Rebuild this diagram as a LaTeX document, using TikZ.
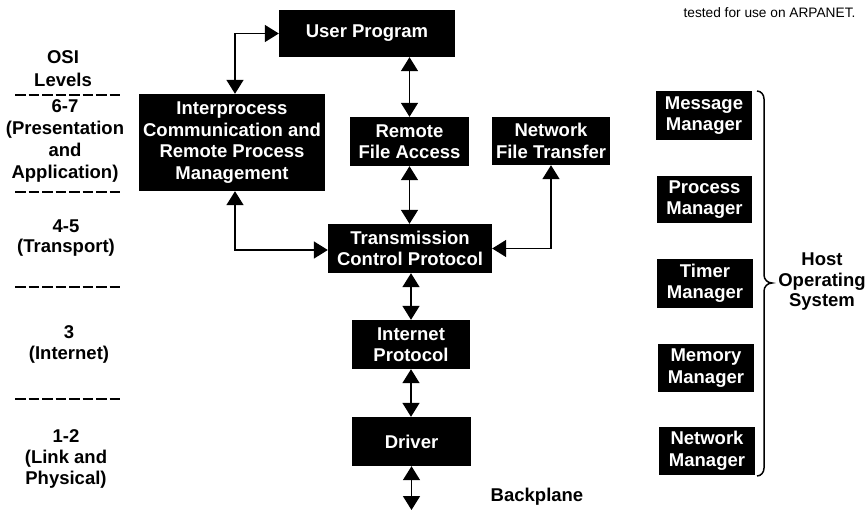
\documentclass[tikz,border=0pt]{standalone}
\usepackage{fontspec}
\setmainfont{Liberation Sans}
\usetikzlibrary{arrows.meta}
\begin{document}
\begin{tikzpicture}[x=1pt,y=-1pt,
  lbl/.style={font=\bfseries\fontsize{18.5}{21.5}\selectfont, align=center, inner sep=0pt},
  blk/.style={lbl, fill=black, text=white},
  biarrow/.style={line width=1.6pt, {Triangle[length=14pt,width=17pt]}-{Triangle[length=14pt,width=17pt]}},
  osidash/.style={line width=2.6pt, dash pattern=on 10.5pt off 3pt},
  bracestyle/.style={line width=1.5pt}]
\useasboundingbox (0,0) rectangle (866,511);

% boxes
\node[blk, minimum width=176pt, minimum height=47pt] (user) at (367,33.5) {User Program};
\node[blk, minimum width=186pt, minimum height=97pt] (ipc) at (232,142.5) {Interprocess\\Communication and\\Remote Process\\Management};
\node[blk, minimum width=119pt, minimum height=49pt] (rfa) at (409.5,141.5) {Remote\\File Access};
\node[blk, minimum width=118pt, minimum height=48pt] (nft) at (551,141) {Network\\File Transfer};
\node[blk, minimum width=164pt, minimum height=49pt] (tcp) at (410,248.5) {Transmission\\Control Protocol};
\node[blk, minimum width=118pt, minimum height=49pt] (ip) at (411,344.5) {Internet\\Protocol};
\node[blk, minimum width=119pt, minimum height=49pt] (drv) at (411.5,441.5) {Driver};

\node[blk, minimum width=96pt, minimum height=49pt] (msg) at (704,115.5) {Message\\Manager};
\node[blk, minimum width=95pt, minimum height=47pt] (proc) at (704.5,199.5) {Process\\Manager};
\node[blk, minimum width=96pt, minimum height=49pt] (tim) at (705,283.5) {Timer\\Manager};
\node[blk, minimum width=96pt, minimum height=48pt] (mem) at (706,368) {Memory\\Manager};
\node[blk, minimum width=96pt, minimum height=48pt] (net) at (707,451) {Network\\Manager};

% left column
\node[lbl, font=\bfseries\fontsize{18.5}{23}\selectfont] (osi) at (63,68.5) {OSI\\Levels};
\node[lbl, font=\bfseries\fontsize{18.5}{22}\selectfont] (l67) at (65,141) {6-7\\(Presentation\\and\\Application)};
\node[lbl, font=\bfseries\fontsize{18.5}{19.5}\selectfont] (l45) at (66,238) {4-5\\(Transport)};
\node[lbl, font=\bfseries\fontsize{18.5}{21}\selectfont] (l3) at (69,344) {3\\(Internet)};
\node[lbl, font=\bfseries\fontsize{18.5}{21}\selectfont] (l12) at (66,459) {1-2\\(Link and\\Physical)};

\coordinate (d1a) at (15,95);  \coordinate (d1b) at (120,95);
\coordinate (d2a) at (15,192); \coordinate (d2b) at (120,192);
\coordinate (d3a) at (15,287); \coordinate (d3b) at (120,287);
\coordinate (d4a) at (15,399); \coordinate (d4b) at (120,399);
\draw[osidash] (d1a) -- (d1b);
\draw[osidash] (d2a) -- (d2b);
\draw[osidash] (d3a) -- (d3b);
\draw[osidash] (d4a) -- (d4b);

% right labels
\node[lbl, font=\bfseries\fontsize{18.5}{20.5}\selectfont] (host) at (822,282) {Host\\Operating\\System};
\node[lbl, font=\fontsize{13.7}{16}\selectfont] (note) at (769.5,13) {tested for use on ARPANET.};
\node[lbl] (bp) at (537,497) {Backplane};

% brace
\coordinate (bt) at (757,91);
\coordinate (bb) at (757,476);
\coordinate (btip) at (772,283);
\draw[bracestyle] (bt) to[out=0,in=90] (764,99) -- (764,275) to[out=-90,in=180] (btip)
  to[out=180,in=90] (764,291) -- (764,468) to[out=-90,in=0] (bb);

% connectors
\draw[biarrow] ([xshift=3pt]ipc.north) |- (user.west);
\draw[biarrow] (rfa.north |- user.south) -- (rfa.north);
\draw[biarrow] (rfa.south) -- (rfa.south |- tcp.north);
\draw[biarrow] (nft.south) |- (tcp.east);
\draw[biarrow] ([xshift=3pt]ipc.south) |- ([yshift=-1.5pt]tcp.west);
\draw[biarrow] (ip.north |- tcp.south) -- (ip.north);
\draw[biarrow] (ip.south) -- (ip.south |- drv.north);
\coordinate (bend) at (411.5,510);
\draw[biarrow] (drv.south) -- (bend);
\end{tikzpicture}
\end{document}
